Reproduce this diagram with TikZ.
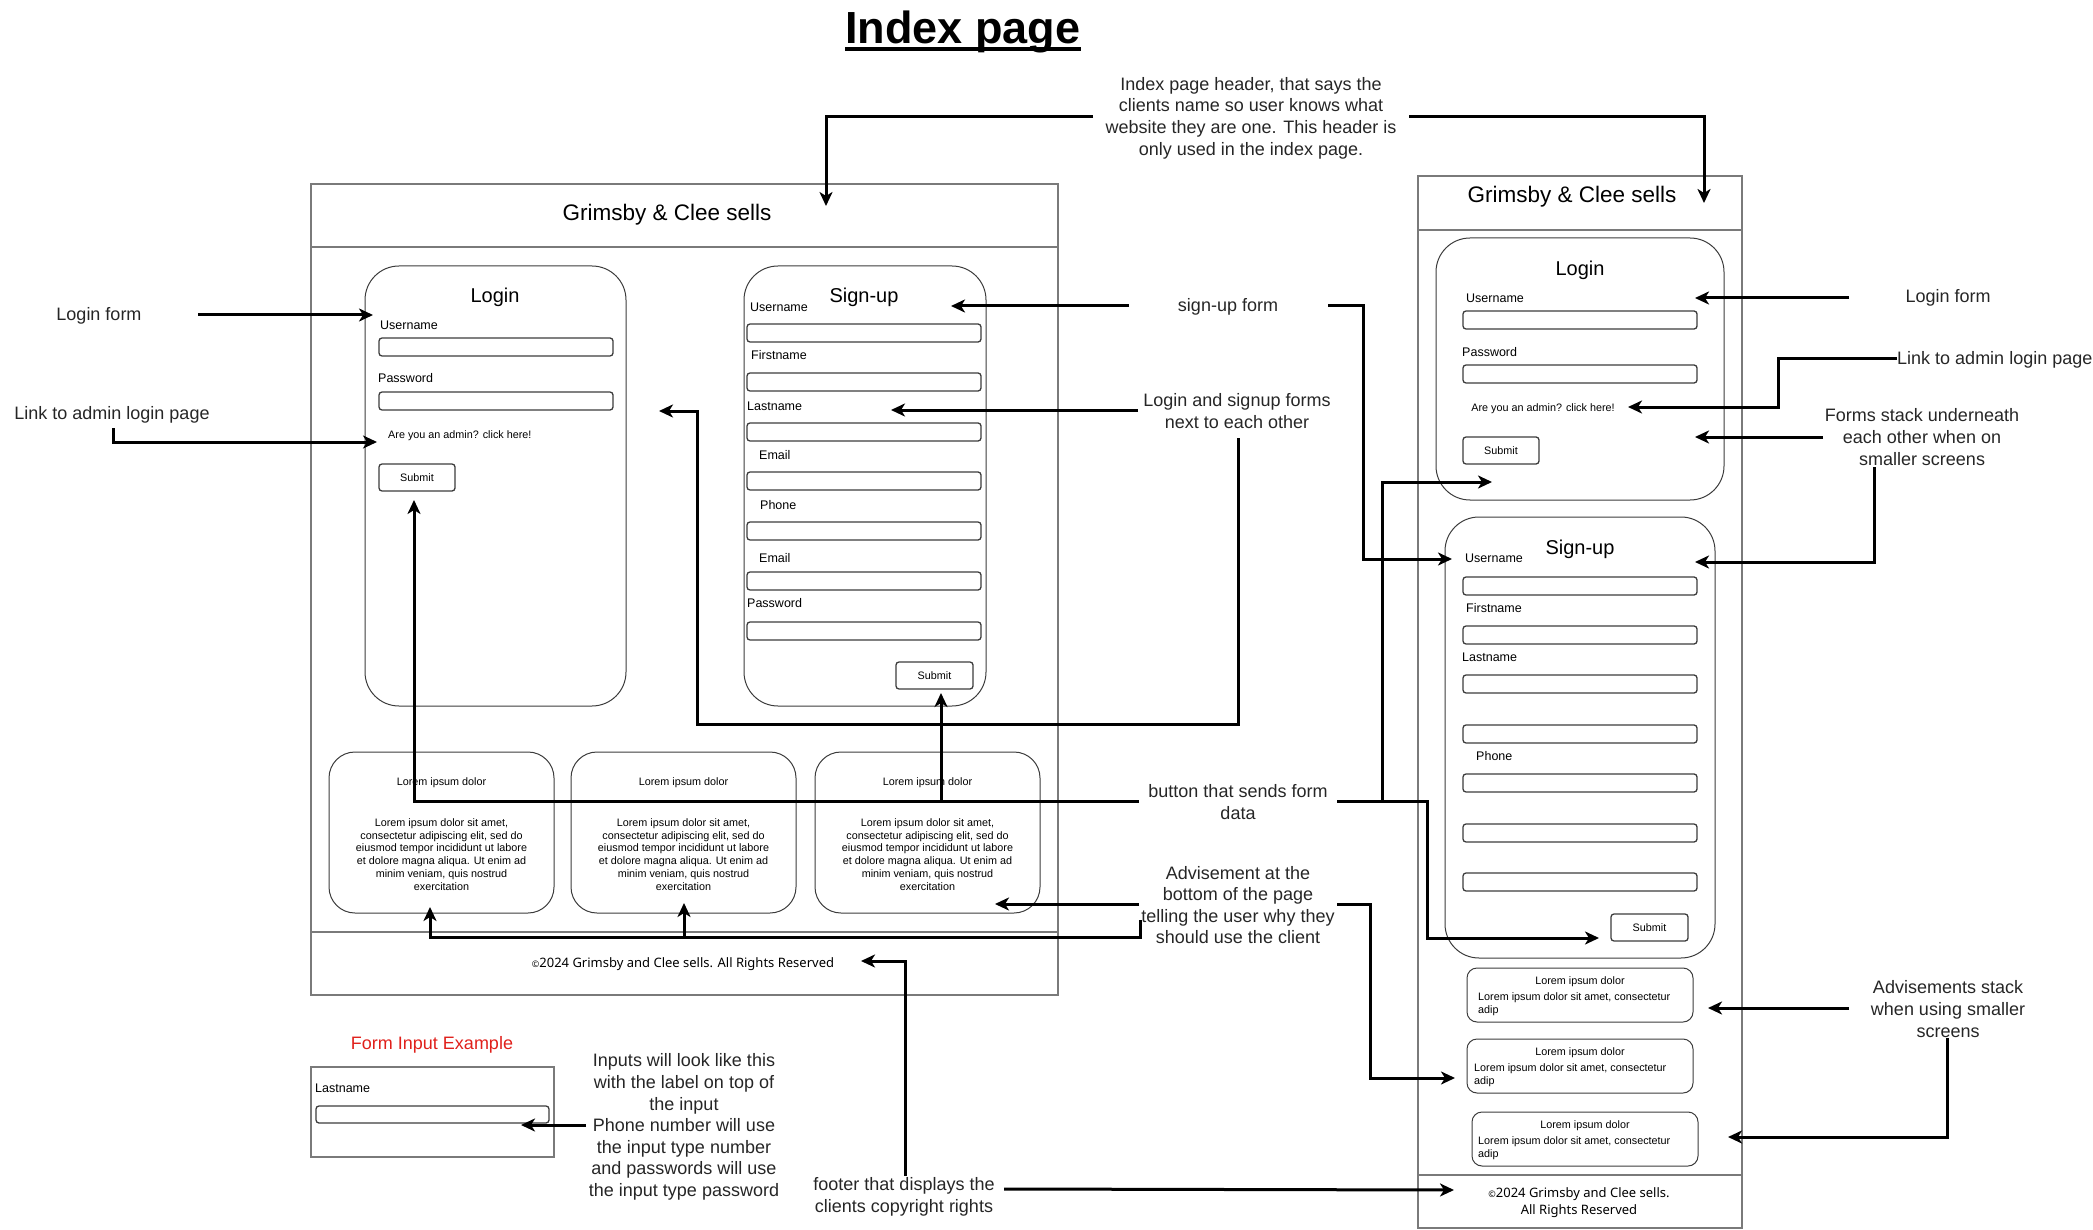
\documentclass[tikz,border=0pt]{standalone}
\usepackage{fontspec}
\setmainfont{Liberation Sans}
\newfontfamily\footfont{Noto Sans}
\usetikzlibrary{arrows.meta,positioning}
\definecolor{framegray}{HTML}{7A7A7A}
\definecolor{inkgray}{HTML}{3C3C3C}
\definecolor{notered}{HTML}{E0201B}
\newcommand{\loremtext}{Lorem ipsum dolor sit amet,\\consectetur adipiscing elit, sed do\\eiusmod tempor incididunt ut labore\\et dolore magna aliqua. Ut enim ad\\minim veniam, quis nostrud\\exercitation}
\newcommand{\copysign}{{\fontsize{9}{10}\selectfont\textcopyright}}

\begin{document}
\begin{tikzpicture}[x=1pt,y=-1pt,
  page/.style={draw=framegray,line width=1.6pt},
  card/.style={draw=inkgray,line width=1pt,rounded corners=34pt},
  field/.style={draw=inkgray,line width=1.3pt,rounded corners=3pt},
  lbl/.style={anchor=west,inner sep=0pt,font=\fontsize{12.5}{15}\selectfont},
  tiny/.style={inner sep=0pt,align=center,font=\fontsize{10.8}{12.8}\selectfont},
  head/.style={inner sep=0pt,font=\fontsize{22.5}{27}\selectfont},
  formtitle/.style={inner sep=0pt,font=\fontsize{20}{24}\selectfont},
  note/.style={inner sep=0pt,align=center,text=black!85,font=\fontsize{18}{21.6}\selectfont},
  arr/.style={line width=3pt,-{Stealth[length=14pt,width=13pt,inset=4pt]}},
  wire/.style={line width=3pt}]
\useasboundingbox (0,0) rectangle (2093,1230);

% title
\node[anchor=base,inner sep=0pt,font=\fontsize{45}{54}\selectfont\bfseries] (title) at (963,44) {Index page};
\draw[line width=3.5pt] ([yshift=-5pt]title.base west) -- ([yshift=-5pt]title.base east);

% desktop page
\draw[page] (311,184) rectangle (1058,995);
\draw[page] (311,247) -- (1058,247);
\draw[page] (311,932) -- (1058,932);
\node[head] (dhead) at (667,215) {Grimsby \& Clee sells};

% desktop login form
\draw[card] (365,266) rectangle (626,706);
\node[formtitle] (dlogin) at (495,297) {Login};
\node[lbl] (dluser) at (380,325) {Username};
\draw[field] (379,338) rectangle (613,356);
\node[lbl] (dlpass) at (378,378) {Password};
\draw[field] (379,392) rectangle (613,410);
\node[lbl,font=\fontsize{10.8}{13}\selectfont] (dladmin) at (388,436) {Are you an admin? click here!};
\draw[field] (379,464) rectangle (455,491);
\node[tiny] (dlsubmit) at (417,477.5) {Submit};

% desktop sign-up form
\draw[card] (744,266) rectangle (986,706);
\node[formtitle] (dsignup) at (864,297) {Sign-up};
\foreach \t/\lx/\ly/\fy [count=\i] in {Username/750/307/324, Firstname/751/355/373,
    Lastname/747/406/423, Email/759/455/472, Phone/760/505/522, Email/759/558/572,
    Password/747/603/622}{
  \node[lbl] (dsl\i) at (\lx,\ly) {\t};
  \draw[field] (747,\fy) rectangle (981,\fy+18);
}
\draw[field] (896,662) rectangle (973,689);
\node[tiny] (dssubmit) at (934.5,675.5) {Submit};

% desktop adverts
\foreach \ax [count=\i] in {329,571,815}{
  \draw[card,rounded corners=26pt] (\ax,752) rectangle (\ax+225,913);
  \node[tiny] (dadt\i) at (\ax+112.5,783) {Lorem ipsum dolor};
  \node[tiny] (dadb\i) at (\ax+112.5,854.5) {\loremtext};
}
\node[inner sep=0pt,font=\footfont\fontsize{13}{16}\selectfont] (dfoot) at (683,964)
  {\copysign2024 Grimsby and Clee sells. All Rights Reserved};

% input example
\node[inner sep=0pt,text=notered,font=\fontsize{18}{21.6}\selectfont] (exhead) at (432,1045) {Form Input Example};
\draw[page] (311,1067) rectangle (554,1157);
\node[lbl] (exlabel) at (315,1088) {Lastname};
\draw[field] (316,1106) rectangle (549,1123);

% mobile page
\draw[page] (1418,176) rectangle (1742,1228);
\draw[page] (1418,230) -- (1742,230);
\draw[page] (1418,1175) -- (1742,1175);
\node[head] (mhead) at (1572,197) {Grimsby \& Clee sells};

% mobile login form
\draw[card] (1436,238) rectangle (1724,500);
\node[formtitle] (mlogin) at (1580,270) {Login};
\node[lbl] (mluser) at (1466,298) {Username};
\draw[field] (1463,311) rectangle (1697,329);
\node[lbl] (mlpass) at (1462,352) {Password};
\draw[field] (1463,365) rectangle (1697,383);
\node[tiny] (mladmin) at (1543,409) {Are you an admin? click here!};
\draw[field] (1463,437) rectangle (1539,464);
\node[tiny] (mlsubmit) at (1501,450.5) {Submit};

% mobile sign-up form
\draw[card] (1445,517) rectangle (1715,958);
\node[formtitle] (msignup) at (1580,549) {Sign-up};
\node[lbl] (msuser) at (1465,558) {Username};
\node[lbl] (msfirst) at (1466,608) {Firstname};
\node[lbl] (mslast) at (1462,657) {Lastname};
\node[lbl] (msphone) at (1476,756) {Phone};
\foreach \fy in {577,626,675,725,774,824,873}
  \draw[field] (1463,\fy) rectangle (1697,\fy+18);
\draw[field] (1611,914) rectangle (1688,941);
\node[tiny] (mssubmit) at (1649.5,927.5) {Submit};

% mobile adverts
\foreach \bx/\by/\tx [count=\i] in {1467/968/1478, 1467/1039/1474, 1472/1112/1478}{
  \draw[card,rounded corners=10pt] (\bx,\by) rectangle (\bx+226,\by+54);
  \node[tiny] (madt\i) at (\bx+113,\by+14) {Lorem ipsum dolor};
  \node[tiny,anchor=west,align=left] (madb\i) at (\tx,\by+36) {Lorem ipsum dolor sit amet, consectetur\\adip};
}
\node[inner sep=0pt,align=center,font=\footfont\fontsize{13}{17}\selectfont] (mfoot) at (1579,1203)
  {\copysign2024 Grimsby and Clee sells.\\All Rights Reserved};

% notes
\node[note] (hdrnote) at (1251,118) {Index page header, that says the\\clients name so user knows what\\website they are one. This header is\\only used in the index page.};
\node[note] (lognoteL) at (99,316) {Login form};
\node[note] (admnoteL) at (112,415) {Link to admin login page};
\node[note] (sunote) at (1228,307) {sign-up form};
\node[note] (nextnote) at (1237,411) {Login and signup forms\\next to each other};
\node[note] (btnnote) at (1238,802) {button that sends form\\data};
\node[note] (advnote) at (1238,905) {Advisement at the\\bottom of the page\\telling the user why they\\should use the client};
\node[note] (ftnote) at (904,1197) {footer that displays the\\clients copyright rights};
\node[note] (inpnote) at (684,1127) {Inputs will look like this\\with the label on top of\\the input\\Phone number will use\\the input type number\\and passwords will use\\the input type password};
\node[note] (lognoteR) at (1948,298) {Login form};
\node[note,anchor=west] (admnoteR) at (1897,360) {Link to admin login page};
\node[note] (stacknote) at (1922,437) {Forms stack underneath\\each other when on\\smaller screens};
\node[note] (advstack) at (1948,1009) {Advisements stack\\when using smaller\\screens};

% arrow ends
\coordinate (hdr-l) at (1093,117);
\coordinate (hdr-dtip) at (826,206);
\coordinate (hdr-r) at (1409,117);
\coordinate (hdr-mtip) at (1704,203);
\coordinate (log-l) at (198,315);
\coordinate (log-dtip) at (373,315);
\coordinate (adm-l) at (113,428);
\coordinate (adm-dtip) at (377,442);
\coordinate (su-l) at (1129,306);
\coordinate (su-dtip) at (951,306);
\coordinate (su-r) at (1328,306);
\coordinate (su-mtip) at (1452,559);
\coordinate (next-l) at (1138,410);
\coordinate (next-ltip) at (891,410);
\coordinate (next-b) at (1238,438);
\coordinate (next-btip) at (659,411);
\coordinate (btn-l) at (1139,801);
\coordinate (btn-ltip) at (414,500);
\coordinate (btn-j) at (941,801);
\coordinate (btn-stip) at (941,693);
\coordinate (btn-r) at (1337,801);
\coordinate (btn-mstip) at (1599,938);
\coordinate (btn-k) at (1382,801);
\coordinate (btn-mltip) at (1492,482);
\coordinate (adv-l) at (1139,904);
\coordinate (adv-ltip) at (995,904);
\coordinate (adv-b) at (1140,920);
\coordinate (adv-tip1) at (430,907);
\coordinate (adv-j) at (684,937);
\coordinate (adv-tip2) at (684,903);
\coordinate (adv-r) at (1337,904);
\coordinate (adv-mtip) at (1455,1078);
\coordinate (ft-t) at (905,1176);
\coordinate (ft-dtip) at (861,961);
\coordinate (ft-r) at (1004,1189);
\coordinate (ft-mtip) at (1454,1190);
\coordinate (inp-s) at (586,1125);
\coordinate (inp-tip) at (521,1125);
\coordinate (logr-s) at (1849,298);
\coordinate (logr-tip) at (1695,298);
\coordinate (admr-s) at (1897,359);
\coordinate (admr-tip) at (1628,407);
\coordinate (stk-s) at (1823,437);
\coordinate (stk-tip1) at (1695,437);
\coordinate (stk-b) at (1874,467);
\coordinate (stk-tip2) at (1695,562);
\coordinate (ads-s) at (1849,1008);
\coordinate (ads-tip1) at (1708,1008);
\coordinate (ads-b) at (1947,1038);
\coordinate (ads-tip2) at (1728,1137);

% arrows
\draw[arr] (hdr-l) -| (hdr-dtip);
\draw[arr] (hdr-r) -| (hdr-mtip);
\draw[arr] (log-l) -- (log-dtip);
\draw[arr] (adm-l) |- (adm-dtip);
\draw[arr] (su-l) -- (su-dtip);
\draw[arr] (su-r) -- (1363,306) |- (su-mtip);
\draw[arr] (next-l) -- (next-ltip);
\draw[arr] (next-b) |- (697,724) |- (next-btip);
\draw[arr] (btn-l) -| (btn-ltip);
\draw[arr] (btn-j) -- (btn-stip);
\draw[arr] (btn-r) -- (1427,801) |- (btn-mstip);
\draw[arr] (btn-k) |- (btn-mltip);
\draw[arr] (adv-l) -- (adv-ltip);
\draw[arr] (adv-b) |- (430,937) -- (adv-tip1);
\draw[arr] (adv-j) -- (adv-tip2);
\draw[arr] (adv-r) -| (1370,1078) -- (adv-mtip);
\draw[arr] (ft-t) |- (ft-dtip);
\draw[arr] (ft-r) -- (ft-mtip);
\draw[arr] (inp-s) -- (inp-tip);
\draw[arr] (logr-s) -- (logr-tip);
\draw[arr] (admr-s) -| (1778,407) -- (admr-tip);
\draw[arr] (stk-s) -- (stk-tip1);
\draw[arr] (stk-b) |- (stk-tip2);
\draw[arr] (ads-s) -- (ads-tip1);
\draw[arr] (ads-b) |- (ads-tip2);
\end{tikzpicture}
\end{document}
